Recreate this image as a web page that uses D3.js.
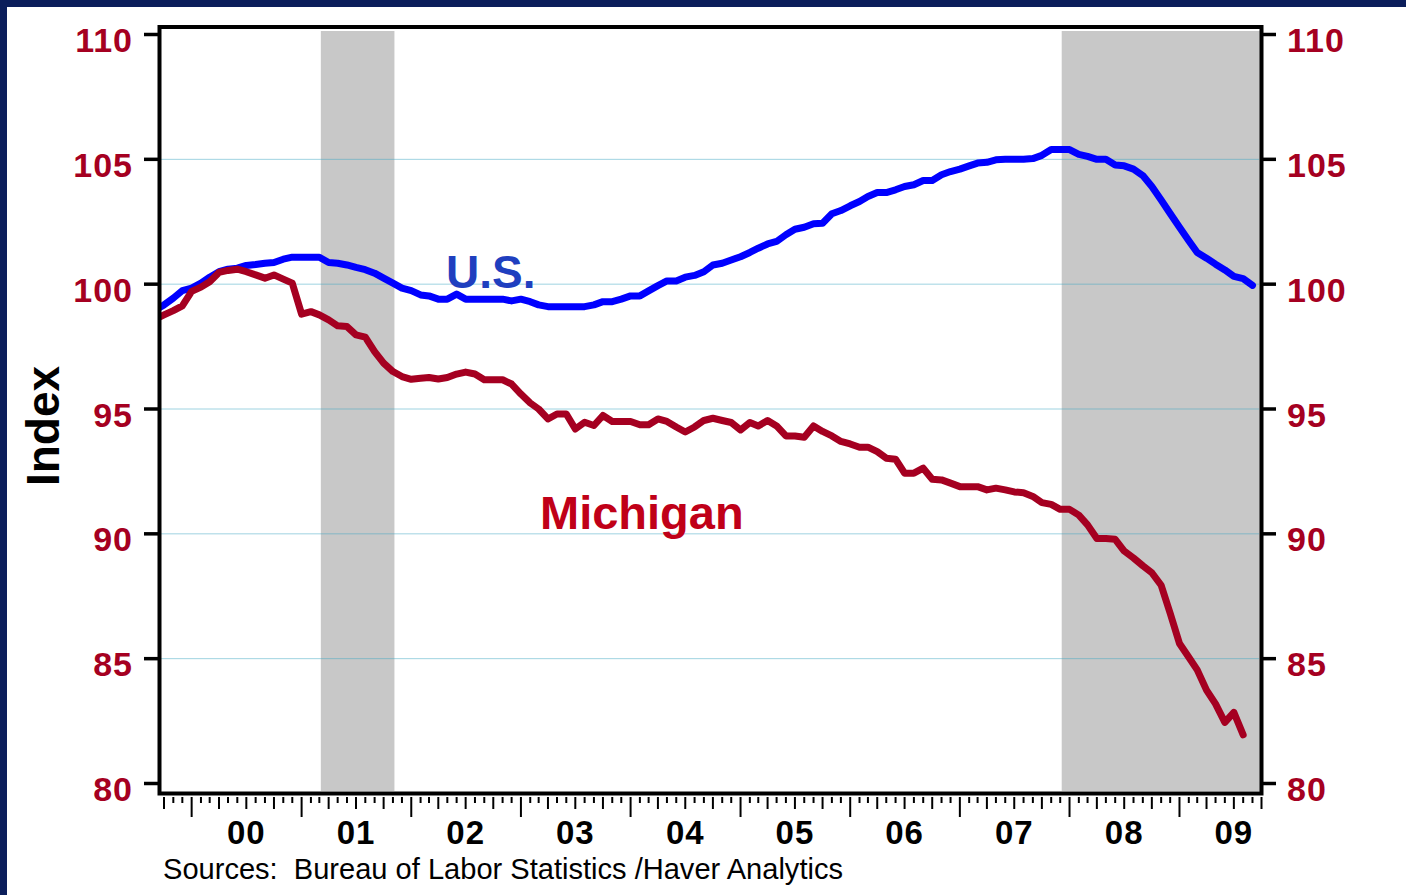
<!DOCTYPE html>
<html>
<head>
<meta charset="utf-8">
<script src="https://cdn.jsdelivr.net/npm/d3@7"></script>
<style>
  html, body { margin: 0; padding: 0; background: #fff; }
  svg { display: block; font-family: "Liberation Sans", Arial, sans-serif; }
</style>
</head>
<body>
<script>
// monthly index values, first value is Sep 1999
var usStart = new Date(1999, 8, 1);
var usValues = [
  98.95, 99.17, 99.44, 99.74,
  99.84, 100.04, 100.28, 100.5, 100.6, 100.64, 100.75, 100.79, 100.84, 100.87, 101.0, 101.08,
  101.08, 101.08, 101.08, 100.87, 100.84, 100.77, 100.67, 100.58, 100.44, 100.24, 100.04, 99.84,
  99.74, 99.57, 99.53, 99.4, 99.4, 99.6, 99.4, 99.4, 99.4, 99.4, 99.4, 99.33,
  99.4, 99.3, 99.17, 99.1, 99.1, 99.1, 99.1, 99.1, 99.17, 99.3, 99.3, 99.4,
  99.53, 99.53, 99.73, 99.94, 100.13, 100.13, 100.28, 100.35, 100.5, 100.77, 100.84, 100.97,
  101.1, 101.27, 101.44, 101.61, 101.71, 101.98, 102.2, 102.28, 102.42, 102.44, 102.82, 102.95,
  103.14, 103.31, 103.51, 103.67, 103.67, 103.78, 103.91, 103.98, 104.15, 104.15, 104.38, 104.51,
  104.61, 104.74, 104.85, 104.88, 104.98, 105.0, 105.0, 105.0, 105.03, 105.16, 105.39, 105.39,
  105.39, 105.2, 105.12, 105.0, 105.0, 104.77, 104.74, 104.61, 104.35, 103.91, 103.37, 102.83,
  102.28, 101.74, 101.27, 101.04, 100.8, 100.57, 100.31, 100.22, 99.95
];
var miStart = new Date(1999, 8, 1);
var miValues = [
  98.6, 98.77, 98.94, 99.13,
  99.71, 99.88, 100.1, 100.47, 100.55, 100.6, 100.5, 100.37, 100.24, 100.37, 100.2, 100.04,
  98.8, 98.9, 98.77, 98.57, 98.33, 98.3, 97.97, 97.88, 97.3, 96.84, 96.5, 96.3,
  96.19, 96.23, 96.26, 96.2, 96.26, 96.4, 96.48, 96.4, 96.17, 96.17, 96.17, 96.0,
  95.6, 95.24, 95.0, 94.6, 94.8, 94.8, 94.2, 94.47, 94.34, 94.74, 94.5, 94.5,
  94.5, 94.37, 94.37, 94.6, 94.5, 94.28, 94.08, 94.28, 94.54, 94.63, 94.54, 94.46,
  94.16, 94.46, 94.32, 94.54, 94.32, 93.92, 93.92, 93.87, 94.32, 94.1, 93.92, 93.7,
  93.6, 93.47, 93.47, 93.29, 93.03, 92.99, 92.43, 92.43, 92.63, 92.19, 92.16, 92.03,
  91.89, 91.89, 91.89, 91.76, 91.83, 91.76, 91.68, 91.65, 91.5, 91.25, 91.18, 90.98,
  90.98, 90.75, 90.36, 89.81, 89.81, 89.78, 89.31, 89.03, 88.72, 88.44, 87.94, 86.82,
  85.61, 85.06, 84.55, 83.74, 83.19, 82.45, 82.85, 81.95
];
var recessions = [
  [new Date(2001, 2, 1), new Date(2001, 10, 1)],
  [new Date(2007, 11, 1), new Date(2009, 9, 1)]
];
var yTicks = [80, 85, 90, 95, 100, 105, 110];
var yearLabels = ['00', '01', '02', '03', '04', '05', '06', '07', '08', '09'];
var yearStarts = [2000, 2001, 2002, 2003, 2004, 2005, 2006, 2007, 2008, 2009];

var width = 1406, height = 895;
var plotL = 159.5, plotR = 1261.5, plotT = 27, plotB = 793.5;

function toSeries(start, values) {
  return values.map(function(v, i) {
    return { date: d3.timeMonth.offset(start, i), value: v };
  });
}

var svg = d3.select('body').append('svg')
  .attr('width', width)
  .attr('height', height);

// navy frame on the top and left edge
svg.append('rect').attr('x', 0).attr('y', 0).attr('width', width).attr('height', 7).attr('fill', '#0b1e5b');
svg.append('rect').attr('x', 0).attr('y', 0).attr('width', 7).attr('height', height).attr('fill', '#0b1e5b');

var x = d3.scaleTime()
  .domain([new Date(1999, 8, 16), new Date(2009, 9, 1)])
  .range([plotL, plotR]);

var y = d3.scaleLinear()
  .domain([80, 110])
  .range([783.5, 34.5]);

svg.append('clipPath').attr('id', 'plot-clip')
  .append('rect')
  .attr('x', plotL + 1.5).attr('y', plotT + 1.5)
  .attr('width', plotR - plotL - 3).attr('height', plotB - plotT - 3);

// recession shading
svg.append('g').selectAll('rect')
  .data(recessions)
  .enter().append('rect')
  .attr('x', function(d) { return x(d[0]) + 1.5; })
  .attr('width', function(d) { return Math.min(x(d[1]) + 1.5, plotR) - x(d[0]) - 1.5; })
  .attr('y', 31)
  .attr('height', 760)
  .attr('fill', '#c8c8c8');

// gridlines
svg.append('g').selectAll('line')
  .data(yTicks.filter(function(t) { return t > 80 && t < 110; }))
  .enter().append('line')
  .attr('x1', plotL + 2).attr('x2', plotR - 2)
  .attr('y1', function(d) { return y(d); })
  .attr('y2', function(d) { return y(d); })
  .attr('stroke', '#3fa6c2')
  .attr('stroke-width', 1)
  .attr('stroke-dasharray', '1,1');

var line = d3.line()
  .x(function(d) { return x(d.date); })
  .y(function(d) { return y(d.value); });

var lines = svg.append('g').attr('clip-path', 'url(#plot-clip)');
lines.append('path')
  .datum(toSeries(usStart, usValues))
  .attr('d', line)
  .attr('fill', 'none')
  .attr('stroke', '#0000ff')
  .attr('stroke-width', 7)
  .attr('stroke-linejoin', 'round')
  .attr('stroke-linecap', 'round');
lines.append('path')
  .datum(toSeries(miStart, miValues))
  .attr('d', line)
  .attr('fill', 'none')
  .attr('stroke', '#a50021')
  .attr('stroke-width', 7)
  .attr('stroke-linejoin', 'round')
  .attr('stroke-linecap', 'round');

// plot frame
svg.append('rect')
  .attr('x', plotL).attr('y', plotT)
  .attr('width', plotR - plotL).attr('height', plotB - plotT)
  .attr('fill', 'none')
  .attr('stroke', '#000')
  .attr('stroke-width', 4);

// y ticks + labels, both sides
var yg = svg.append('g');
yg.selectAll('line.l').data(yTicks).enter().append('line')
  .attr('x1', 144).attr('x2', plotL)
  .attr('y1', function(d) { return y(d); }).attr('y2', function(d) { return y(d); })
  .attr('stroke', '#000').attr('stroke-width', 3.5);
yg.selectAll('line.r').data(yTicks).enter().append('line')
  .attr('x1', plotR).attr('x2', 1276)
  .attr('y1', function(d) { return y(d); }).attr('y2', function(d) { return y(d); })
  .attr('stroke', '#000').attr('stroke-width', 3.5);
yg.selectAll('text.l').data(yTicks).enter().append('text')
  .attr('x', 133)
  .attr('y', function(d) { return y(d) + 17.5; })
  .attr('text-anchor', 'end')
  .attr('font-size', 34).attr('font-weight', 'bold')
  .attr('letter-spacing', 1)
  .attr('fill', '#a50021')
  .text(function(d) { return d; });
yg.selectAll('text.r').data(yTicks).enter().append('text')
  .attr('x', 1287)
  .attr('y', function(d) { return y(d) + 17.5; })
  .attr('text-anchor', 'start')
  .attr('font-size', 34).attr('font-weight', 'bold')
  .attr('letter-spacing', 1)
  .attr('fill', '#a50021')
  .text(function(d) { return d; });

// monthly x ticks: year long, quarter medium, month short
var months = d3.timeMonth.range(new Date(1999, 9, 1), new Date(2009, 9, 2));
svg.append('g').selectAll('line')
  .data(months)
  .enter().append('line')
  .attr('x1', function(d) { return x(d); })
  .attr('x2', function(d) { return x(d); })
  .attr('y1', 797)
  .attr('y2', function(d) {
    var m = d.getMonth();
    if (m === 0) return 817;
    if (m % 3 === 0) return 809;
    return 803;
  })
  .attr('stroke', '#000')
  .attr('stroke-width', 2);

svg.append('g').selectAll('text')
  .data(yearStarts)
  .enter().append('text')
  .attr('x', function(d) { return x(new Date(d, 6, 1)); })
  .attr('y', 844)
  .attr('text-anchor', 'middle')
  .attr('font-size', 33).attr('font-weight', 'bold')
  .attr('letter-spacing', 1)
  .attr('fill', '#000')
  .text(function(d, i) { return yearLabels[i]; });

// axis title
svg.append('text')
  .attr('transform', 'translate(59,426) rotate(-90)')
  .attr('text-anchor', 'middle')
  .attr('font-size', 46).attr('font-weight', 'bold')
  .attr('fill', '#000')
  .text('Index');

// series labels
svg.append('text')
  .attr('x', 446).attr('y', 288)
  .attr('font-size', 46).attr('font-weight', 'bold')
  .attr('fill', '#1f3fbf')
  .text('U.S.');
svg.append('text')
  .attr('x', 540).attr('y', 529)
  .attr('font-size', 47).attr('font-weight', 'bold')
  .attr('fill', '#c00018')
  .text('Michigan');

svg.append('text')
  .attr('x', 163).attr('y', 879)
  .attr('font-size', 29)
  .attr('fill', '#000')
  .attr('textLength', 680)
  .attr('lengthAdjust', 'spacingAndGlyphs')
  .attr('xml:space', 'preserve')
  .text('Sources:  Bureau of Labor Statistics /Haver Analytics');
</script>
</body>
</html>
